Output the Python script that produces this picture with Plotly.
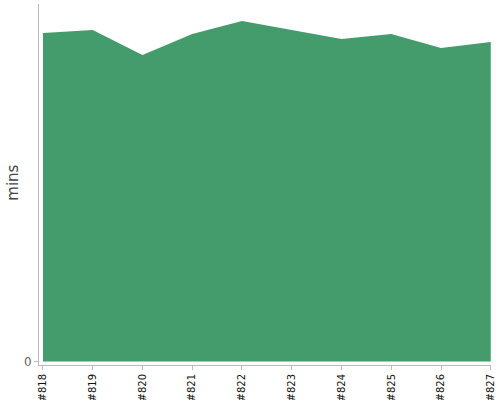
import plotly.graph_objects as go

runs = ["#818", "#819", "#820", "#821", "#822", "#823", "#824", "#825", "#826", "#827"]
mins = [32.8, 33.1, 30.6, 32.7, 34.0, 33.1, 32.2, 32.7, 31.3, 31.9]
y_title = "mins"

fig = go.Figure(go.Scatter(
    x=runs, y=mins, mode="lines", fill="tozeroy",
    line=dict(color="#449c6c", width=0), fillcolor="#449c6c",
    hoverinfo="x+y",
))

fig.update_layout(
    width=500, height=400,
    margin=dict(l=39, r=9, t=4, b=35),
    plot_bgcolor="white", paper_bgcolor="white",
    showlegend=False,
    font=dict(family="DejaVu Sans", color="#444"),
    annotations=[dict(
        text=y_title, textangle=-90, xref="paper", yref="paper",
        x=-0.0575, y=0.505, xanchor="center", yanchor="middle",
        showarrow=False, font=dict(size=15, color="#444"),
    )],
)
fig.update_xaxes(
    type="category", range=[-0.08, 9.005], automargin=False,
    showline=True, linecolor="#bbbbbb", linewidth=1,
    ticks="outside", tickcolor="#bbbbbb", ticklen=4,
    tickangle=-90, tickfont=dict(size=10, color="#111"),
    showgrid=False, zeroline=False,
)
fig.update_yaxes(
    range=[-0.35, 35.7], automargin=False,
    showline=True, linecolor="#bbbbbb", linewidth=1,
    ticks="outside", tickcolor="#bbbbbb", ticklen=4,
    tickvals=[0], ticktext=["0"], tickfont=dict(size=12, color="#666"),
    showgrid=False, zeroline=False,
)

fig.write_html(
    "out.html",
    config={"displayModeBar": False},
    post_script="document.body.style.margin='0';document.body.style.overflow='hidden';",
)
